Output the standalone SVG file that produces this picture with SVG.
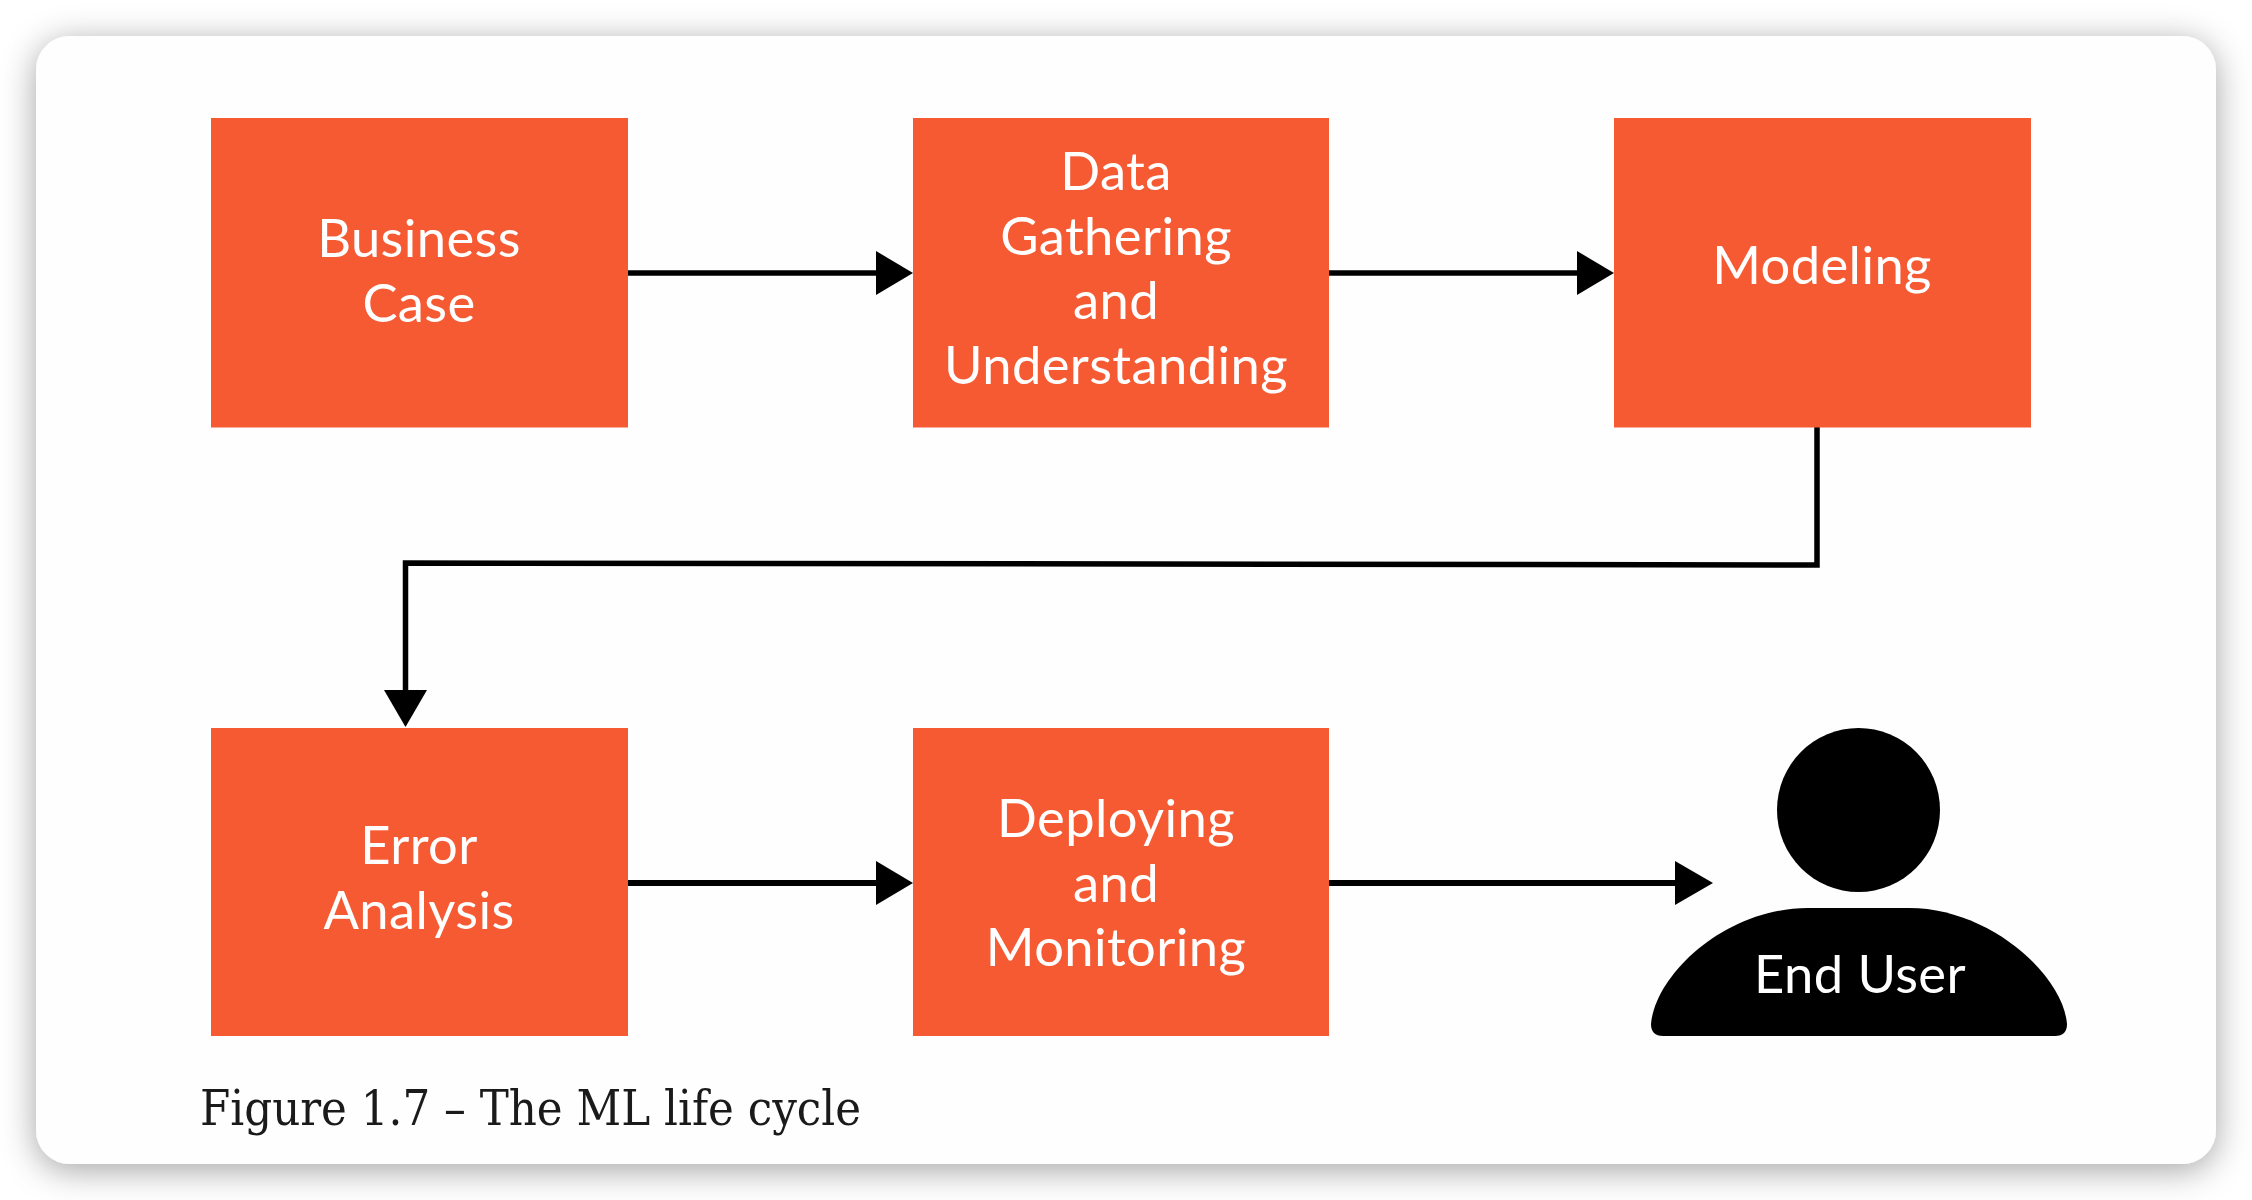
<svg xmlns="http://www.w3.org/2000/svg" width="2252" height="1200" viewBox="0 0 2252 1200">
<style>
.box{fill:#f55a33}
.lbl{font-family:"Lato","Noto Sans",sans-serif;font-size:52.500px;letter-spacing:.4px;fill:#fff;text-anchor:middle}
.cap{font-family:"DejaVu Serif Condensed","DejaVu Serif","Liberation Serif",serif;font-size:48.500px;fill:#1a1a1a}
.conn{fill:none;stroke:#000;stroke-width:5.500}
.low{stroke-width:6}
.head{fill:#000}
</style>
<defs>
<filter id="sh" x="-5%" y="-10%" width="110%" height="120%"><feDropShadow dx="0" dy="6" stdDeviation="17" flood-color="#000" flood-opacity="0.36"/></filter>
</defs>
<rect width="2252" height="1200" fill="#fff"/>
<rect id="card" x="36" y="36" width="2180" height="1128" rx="34" ry="34" fill="#fefefe" filter="url(#sh)"/>
<g id="connectors">
<path class="conn" d="M628 273H880"/><polygon class="head" points="876,251 913,273 876,295"/>
<path class="conn" d="M1329 273H1580"/><polygon class="head" points="1577,251 1614,273 1577,295"/>
<path class="conn" d="M1817 427V565L405.500 563V695"/><polygon class="head" points="384,690 427,690 405.500,727"/>
<path class="conn low" d="M628 883H880"/><polygon class="head" points="876,861 913,883 876,905"/>
<path class="conn low" d="M1329 883H1680"/><polygon class="head" points="1675,861 1713,883 1675,905"/>
</g>
<g id="business-case"><rect class="box" x="211" y="118" width="417" height="309.500"/><text class="lbl" x="419" y="257">Business</text><text class="lbl" x="419" y="321.500">Case</text></g>
<g id="data-gathering"><rect class="box" x="913" y="118" width="416" height="309.500"/><text class="lbl" x="1116" y="190">Data</text><text class="lbl" x="1116" y="254.500">Gathering</text><text class="lbl" x="1116" y="319">and</text><text class="lbl" x="1116" y="383.500">Understanding</text></g>
<g id="modeling"><rect class="box" x="1614" y="118" width="417" height="309.500"/><text class="lbl" x="1822" y="284">Modeling</text></g>
<g id="error-analysis"><rect class="box" x="211" y="728" width="417" height="308"/><text class="lbl" x="419" y="864">Error</text><text class="lbl" x="419" y="929">Analysis</text></g>
<g id="deploying"><rect class="box" x="913" y="728" width="416" height="308"/><text class="lbl" x="1116" y="837">Deploying</text><text class="lbl" x="1116" y="901.500">and</text><text class="lbl" x="1116" y="966">Monitoring</text></g>
<g id="end-user">
<ellipse cx="1858.500" cy="810" rx="81.500" ry="82" fill="#000"/>
<path fill="#000" d="M1651 1024C1655 975 1725 908 1808 908H1909C1990 908 2063 975 2067 1024Q2067 1036 2055 1036H1663Q1651 1036 1651 1024Z"/>
<text class="lbl" x="1860" y="993">End User</text>
</g>
<text id="caption" class="cap" x="200" y="1124.500">Figure 1.7 – The ML life cycle</text>
</svg>
